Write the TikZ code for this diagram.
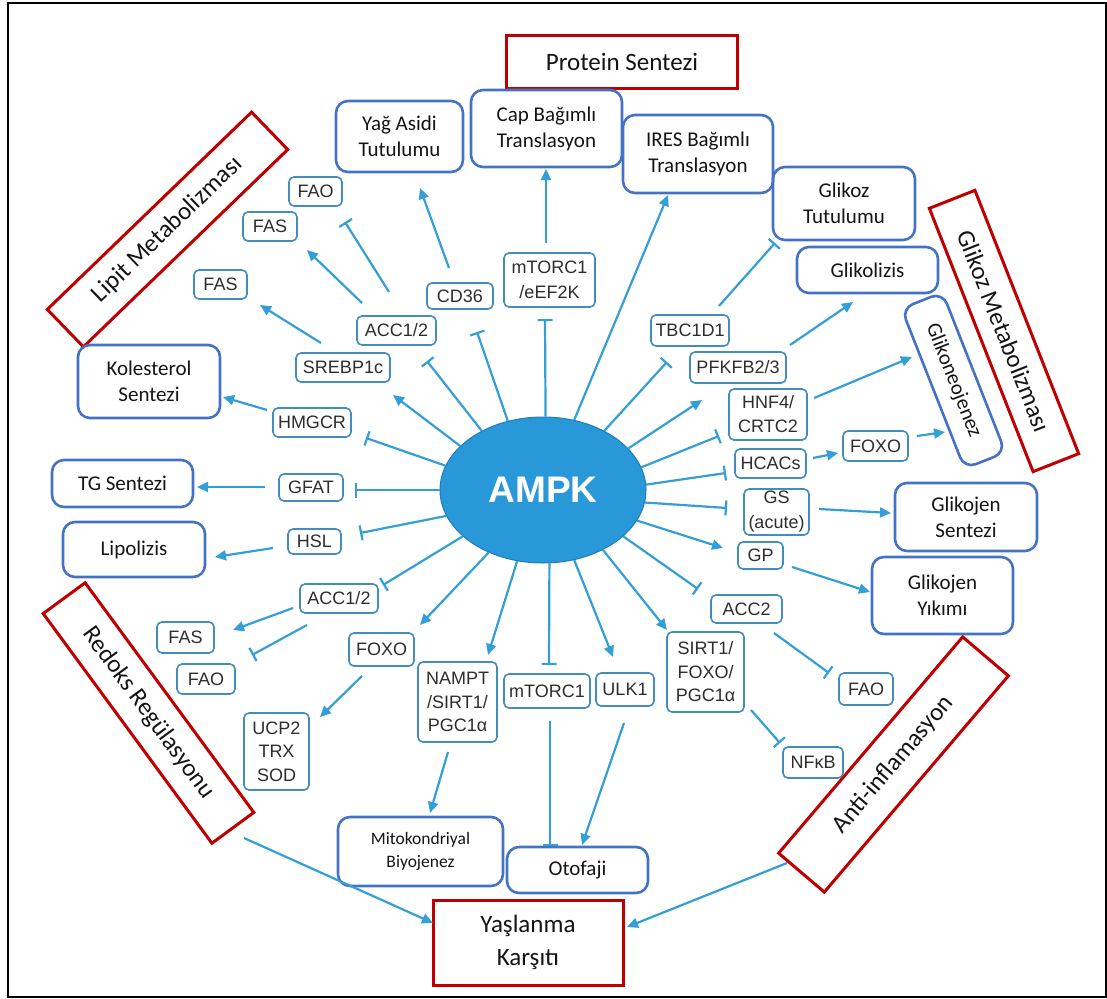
\documentclass[tikz,border=0pt]{standalone}
\usepackage{fontspec}
\setmainfont{Carlito}
\newfontfamily\lab{Liberation Sans}
\usetikzlibrary{arrows.meta,calc,shapes.geometric}

\definecolor{wire}{RGB}{52,158,214}
\definecolor{tagline}{RGB}{66,140,190}
\definecolor{tagtext}{RGB}{45,45,45}
\definecolor{boxblue}{RGB}{68,114,196}
\definecolor{boxred}{RGB}{192,0,0}
\definecolor{ampkfill}{RGB}{40,152,216}
\definecolor{ampkedge}{RGB}{30,125,185}

\begin{document}
\begin{tikzpicture}[x=1pt,y=1pt,
  sz/.style 2 args={minimum width=#1pt, minimum height=#2pt},
  tag/.style={draw=tagline, line width=1.6pt, rounded corners=5pt, inner sep=0pt,
    font=\lab\fontsize{18}{23.5}\selectfont, text=tagtext, align=center},
  goal/.style={draw=boxblue, line width=2.6pt, rounded corners=12pt, inner sep=0pt,
    font=\fontsize{21}{26}\selectfont, text=black!92, align=center},
  theme/.style={draw=boxred, line width=3pt, inner sep=0pt,
    font=\fontsize{25}{33}\selectfont, text=black!92, align=center},
  act/.style={draw=wire, line width=2.2pt, -{Triangle[length=11pt,width=10pt]}},
  inh/.style={draw=wire, line width=2.2pt, -{Bar[width=15pt,line width=2.2pt]}},
]
% canvas and frame
\useasboundingbox (0,0) rectangle (1107,-998);
\draw[black, line width=2pt] (8,-3) rectangle (1105.5,-997);

% theme boxes
\node[theme, sz={231}{53}] (protein) at (622,-62) {Protein Sentezi};
\node[theme, sz={284}{52}, rotate=44] (lipit) at (167.5,-229.5) {Lipit Metabolizması};
\node[theme, sz={283}{49}, rotate=-68.5] (glikozmet) at (1004,-331) {Glikoz Metabolizması};
\node[theme, sz={285}{52}, rotate=-53.7] (redoks) at (148.5,-713) {Redoks Regülasyonu};
\node[theme, sz={284}{60}, rotate=49.6] (anti) at (893.5,-764.5) {Anti-inflamasyon};
\node[theme, sz={190}{85}] (yaslanma) at (528,-942.5) {Yaşlanma\\Karşıtı};

% outcome boxes
\node[goal, sz={127}{71}] (yag) at (399.5,-136.5) {Yağ Asidi\\Tutulumu};
\node[goal, sz={151}{77}] (cap) at (546.5,-128.5) {Cap Bağımlı\\Translasyon};
\node[goal, sz={150}{78}] (ires) at (698,-154) {IRES Bağımlı\\Translasyon};
\node[goal, sz={142}{73}] (gtut) at (844,-203.5) {Glikoz\\Tutulumu};
\node[goal, sz={141}{46}] (glikoliz) at (867.5,-270) {Glikolizis};
\node[goal, sz={172}{44}, rotate=-68.5] (gneo) at (953.5,-380.5) {Glikoneojenez};
\node[goal, sz={142}{68}] (gsent) at (966,-517) {Glikojen\\Sentezi};
\node[goal, sz={141}{77}] (gyik) at (942.5,-595.5) {Glikojen\\Yıkımı};
\node[goal, sz={142}{73}] (kol) at (149,-381.5) {Kolesterol\\Sentezi};
\node[goal, sz={141}{47}] (tg) at (122.5,-483.5) {TG Sentezi};
\node[goal, sz={142}{55}] (lipo) at (134,-549.5) {Lipolizis};
\node[goal, sz={165}{69}, font=\fontsize{17.5}{23}\selectfont] (mito) at (420.5,-851.5) {Mitokondriyal\\Biyojenez};
\node[goal, sz={141}{46}] (oto) at (577.5,-870) {Otofaji};

% targets of AMPK
\node[tag, sz={53}{29}] (faoA) at (315.5,-191.5) {FAO};
\node[tag, sz={54}{29}] (fasA) at (270,-226.5) {FAS};
\node[tag, sz={53}{29}] (fasB) at (220.5,-284.5) {FAS};
\node[tag, sz={66}{26}] (cd36) at (460,-296) {CD36};
\node[tag, sz={79}{29}] (accA) at (396.5,-330.5) {ACC1/2};
\node[tag, sz={94}{29}] (srebp) at (343,-367.5) {SREBP1c};
\node[tag, sz={78}{29}] (hmgcr) at (312,-422.5) {HMGCR};
\node[tag, sz={64}{27}] (gfat) at (311,-487.5) {GFAT};
\node[tag, sz={53}{25}] (hsl) at (314.5,-541.5) {HSL};
\node[tag, sz={78}{29}] (accB) at (339,-598.5) {ACC1/2};
\node[tag, sz={57}{31}] (fasC) at (185.5,-637.5) {FAS};
\node[tag, sz={58}{30}] (faoB) at (206,-679) {FAO};
\node[tag, sz={65}{33}] (foxoL) at (381.5,-649.5) {FOXO};
\node[tag, sz={65}{77}] (ucp) at (276.5,-751.5) {UCP2\\TRX\\SOD};
\node[tag, sz={79}{80}] (nampt) at (457.5,-702) {NAMPT\\/SIRT1/\\PGC1α};
\node[tag, sz={86}{34}] (mtorb) at (547,-691) {mTORC1};
\node[tag, sz={58}{33}] (ulk) at (625,-689.5) {ULK1};
\node[tag, sz={77}{80}] (sirt) at (705.5,-672) {SIRT1/\\FOXO/\\PGC1α};
\node[tag, sz={71}{28}] (acc2) at (746.5,-609) {ACC2};
\node[tag, sz={54}{32}] (faoC) at (866,-689) {FAO};
\node[tag, sz={60}{31}] (nfkb) at (813,-762.5) {NFκB};
\node[tag, sz={91}{54}, font=\lab\fontsize{18}{25}\selectfont] (mtort) at (549.5,-280) {mTORC1\\/eEF2K};
\node[tag, sz={78}{31}] (tbc) at (690,-330.5) {TBC1D1};
\node[tag, sz={96}{31}] (pfk) at (738,-367.5) {PFKFB2/3};
\node[tag, sz={78}{51}, font=\lab\fontsize{18}{24}\selectfont] (hnf) at (768,-414.5) {HNF4/\\CRTC2};
\node[tag, sz={71}{29}] (hcac) at (770.5,-463.5) {HCACs};
\node[tag, sz={65}{30}] (foxoR) at (875.5,-446) {FOXO};
\node[tag, sz={65}{46}, font=\lab\fontsize{18}{25}\selectfont] (gs) at (776.5,-512) {GS\\(acute)};
\node[tag, sz={45}{27}] (gp) at (760.5,-555.5) {GP};

% the kinase
\node[ellipse, fill=ampkfill, draw=ampkedge, line width=1pt, minimum width=206pt,
  minimum height=146pt, inner sep=0pt, text=white,
  font=\lab\bfseries\fontsize{37}{37}\selectfont] (ampk) at (543,-490) {AMPK};

% AMPK actions
\draw[act] (ampk.152) -- ($(srebp)+(50,-27.5)$);
\draw[inh] (ampk.136) -- ($(accA)+(30.5,-30.5)$);
\draw[inh] (ampk.117) -- ($(cd36)+(17,-36)$);
\draw[inh] (ampk.88)  -- ($(mtort)+(-4.5,-39)$);
\draw[act] (ampk.66)  -- ($(ires)+(-30,-41)$);
\draw[inh] (ampk.44)  -- ($(tbc)+(-23,-31.5)$);
\draw[act] (ampk.26)  -- ($(pfk)+(-36,-32.5)$);
\draw[inh] (ampk.13)  -- ($(hnf)+(-49,-21.5)$);
\draw[inh] (ampk.3)   -- ($(hcac)+(-44.5,-9.5)$);
\draw[inh] (ampk.-7)  -- ($(gs)+(-49.5,4)$);
\draw[act] (ampk.-18) -- ($(gp)+(-37.5,7.5)$);
\draw[inh] (ampk.-30) -- ($(acc2)+(-48.5,20)$);
\draw[act] (ampk.-45) -- ($(sirt)+(-38.5,42)$);
\draw[act] (ampk.-66) -- ($(ulk)+(-12,32.5)$);
\draw[inh] (ampk.-85) -- ($(mtorb)+(2,26)$);
\draw[act] (ampk.-110) -- ($(nampt)+(30.5,47)$);
\draw[act] (ampk.-131) -- ($(foxoL)+(38.5,24.5)$);
\draw[inh] (ampk.-150) -- ($(accB)+(44,13.5)$);
\draw[inh] (ampk.-165) -- ($(hsl)+(45.5,8.5)$);
\draw[inh] (ampk.180) -- ($(gfat)+(44,-2.5)$);
\draw[inh] (ampk.166) -- ($(hmgcr)+(54,-15.5)$);

% downstream effects
\draw[act] ($(accA)+(-34.5,27.5)$) -- ($(fasA)+(37,-23.5)$);
\draw[inh] ($(accA)+(-7.5,38.5)$) -- ($(faoA)+(29.5,-30.5)$);
\draw[act] ($(srebp)+(-22,24.5)$) -- ($(fasB)+(39.5,-20.5)$);
\draw[act] ($(cd36)+(-11,28)$) -- ($(yag)+(20.5,-51.5)$);
\draw[act] ($(mtort)+(-3.5,37)$) -- ($(cap)+(-0.5,-40.5)$);
\draw[inh] ($(tbc)+(29,24.5)$) -- ($(gtut)+(-69,-39.5)$);
\draw[act] ($(pfk)+(52,22.5)$) -- ($(glikoliz)+(-14.5,-32)$);
\draw[act] ($(hnf)+(46,16.5)$) -- ($(gneo)+(-41.5,23.5)$);
\draw[act] ($(hcac)+(42.5,5.5)$) -- ($(foxoR)+(-37.5,-7)$);
\draw[act] ($(foxoR)+(41.5,10)$) -- ($(gneo)+(-8.5,-51.5)$);
\draw[act] ($(gs)+(42.5,3)$) -- ($(gsent)+(-75,4)$);
\draw[act] ($(gp)+(31.5,-11.5)$) -- ($(gyik)+(-72.5,3.5)$);
\draw[inh] ($(acc2)+(27.5,-24)$) -- ($(faoC)+(-37,16)$);
\draw[inh] ($(sirt)+(45.5,-38)$) -- ($(nfkb)+(-33,19.5)$);
\draw[act] ($(accB)+(-46,-9.5)$) -- ($(fasC)+(47.5,7.5)$);
\draw[inh] ($(accB)+(-32,-26.5)$) -- ($(faoB)+(46,24)$);
\draw[act] ($(foxoL)+(-19.5,-26.5)$) -- ($(ucp)+(43.5,34.5)$);
\draw[act] ($(nampt)+(-9.5,-50)$) -- ($(mito)+(9.5,38.5)$);
\draw[inh] ($(mtorb)+(3,-30)$) -- ($(oto)+(-27.5,24)$);
\draw[act] ($(ulk)+(-1,-33.5)$) -- ($(oto)+(4.5,25)$);
\draw[act] ($(hmgcr)+(-45,12.5)$) -- ($(kol)+(74,-15.5)$);
\draw[act] ($(gfat)+(-46,0.5)$) -- ($(tg)+(74.5,-3.5)$);
\draw[act] ($(hsl)+(-41.5,-6.5)$) -- ($(lipo)+(81,-7.5)$);
\draw[act] ($(redoks)+(95.5,-125)$) -- ($(yaslanma)+(-95,19.5)$);
\draw[act] ($(anti)+(-106.5,-98.5)$) -- ($(yaslanma)+(99,15.5)$);
\end{tikzpicture}
\end{document}
